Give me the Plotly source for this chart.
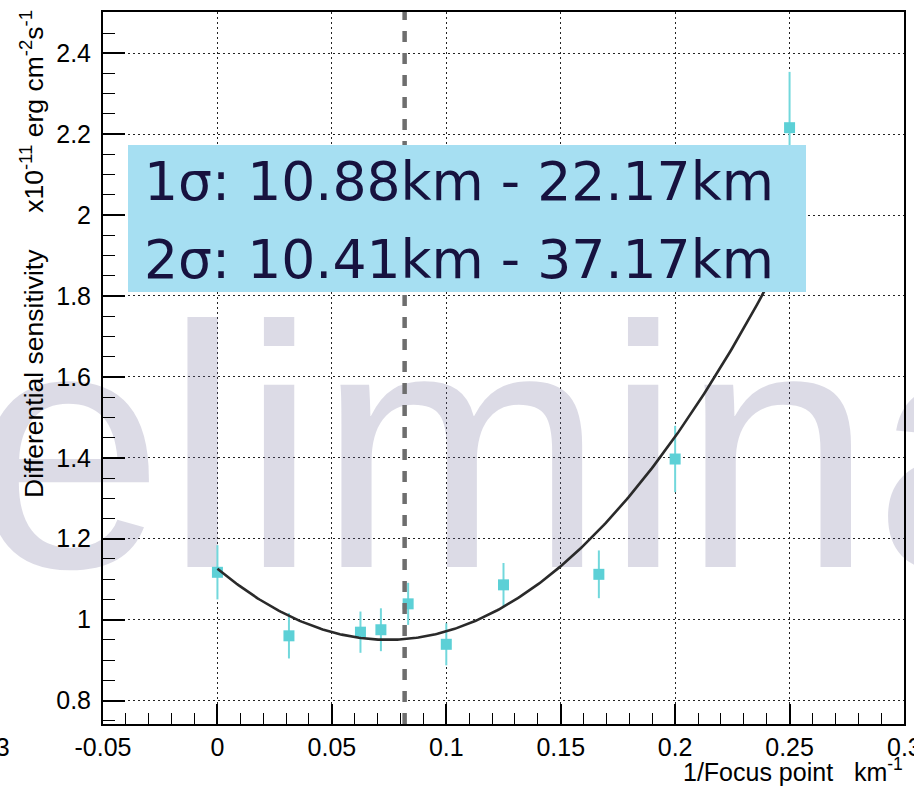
import numpy as np
import plotly.graph_objects as go

# Inverse focus point (1/km) and differential sensitivity (x1e-11 erg cm^-2 s^-1)
inv_focus = [0.0, 1 / 32, 1 / 16, 1 / 14, 1 / 12, 1 / 10, 1 / 8, 1 / 6, 1 / 5, 1 / 4]
sensitivity = [1.117, 0.960, 0.969, 0.975, 1.039, 0.939, 1.086, 1.112, 1.397, 2.216]
sens_err = [0.067, 0.056, 0.051, 0.053, 0.052, 0.052, 0.054, 0.059, 0.082, 0.138]

# Quadratic fit: p0 + p1*x + p2*x^2, evaluated over the fit interval
fit_coeffs = [1.126, -4.73, 31.8]
fit_range = [0.0, 0.25]

# Best focus point marker (1/km)
best_inv_focus = 0.0818

sigma_lines = ["1σ: 10.88km - 22.17km", "2σ: 10.41km - 37.17km"]

x_tick_vals = [-0.05, 0.0, 0.05, 0.1, 0.15, 0.2, 0.25, 0.3]
x_tick_text = ["-0.05", "0", "0.05", "0.1", "0.15", "0.2", "0.25", "0.3"]
y_tick_vals = [0.8, 1.0, 1.2, 1.4, 1.6, 1.8, 2.0, 2.2, 2.4]
y_tick_text = ["0.8", "1", "1.2", "1.4", "1.6", "1.8", "2", "2.2", "2.4"]

x_range = [-0.05, 0.3]
y_range = [0.742, 2.502]

W, H = 914, 788
M = dict(l=103, r=10, t=12, b=64)
PW, PH = W - M["l"] - M["r"], H - M["t"] - M["b"]


def px_to_paper_x(px):
    return (px - M["l"]) / PW


def px_to_paper_y(py):
    return (H - M["b"] - py) / PH


def px_to_data_x(px):
    return x_range[0] + (px - M["l"]) / PW * (x_range[1] - x_range[0])


def px_to_data_y(py):
    return y_range[0] + (H - M["b"] - py) / PH * (y_range[1] - y_range[0])


AXIS_FONT = "Liberation Sans, Arial, Helvetica, sans-serif"
POINT_COLOR = "#5cd0d6"
TICK_FONT = dict(family=AXIS_FONT, size=25, color="black")

fig = go.Figure()

# Large translucent "Preliminary" watermark behind the data
wm_size = 345
fig.add_trace(go.Scatter(
    x=[px_to_data_x(490)], y=[px_to_data_y(567 - 0.25 * wm_size)],
    mode="text", text=["Preliminary"], textposition="middle center",
    textfont=dict(family=AXIS_FONT, size=wm_size, color="rgba(115,111,155,0.25)"),
    cliponaxis=False, hoverinfo="skip",
))

# Measured points with vertical error bars
fig.add_trace(go.Scatter(
    x=inv_focus, y=sensitivity, mode="markers",
    marker=dict(symbol="square", size=11, color=POINT_COLOR, line=dict(width=0)),
    error_y=dict(type="data", array=sens_err, visible=True,
                 color="#72d8dc", thickness=2, width=0),
))

# Fitted parabola
xf = np.linspace(fit_range[0], fit_range[1], 300)
yf = fit_coeffs[0] + fit_coeffs[1] * xf + fit_coeffs[2] * xf ** 2
fig.add_trace(go.Scatter(x=xf, y=yf, mode="lines",
                         line=dict(color="#2a2a2a", width=2.6)))

# Best focus vertical dashed line
fig.add_shape(type="line", xref="x", yref="paper",
              x0=best_inv_focus, x1=best_inv_focus, y0=0, y1=1,
              line=dict(color="#6e6e6e", width=4.5, dash="11px,11px"),
              layer="above")

# Confidence interval text box
fig.add_shape(type="rect", xref="paper", yref="paper",
              x0=px_to_paper_x(128), x1=px_to_paper_x(806),
              y0=px_to_paper_y(292), y1=px_to_paper_y(145),
              fillcolor="#a6dff2", line=dict(width=0), layer="above")
for line, cy in zip(sigma_lines, [181, 259]):
    fig.add_annotation(
        text=line, xref="paper", yref="paper",
        x=px_to_paper_x(142), y=px_to_paper_y(cy),
        xanchor="left", yanchor="middle", showarrow=False,
        font=dict(family="DejaVu Sans", size=53.6, color="#17123f"),
    )

# Axis titles
fig.add_annotation(
    text="Differential sensitivity     x10<sup>-11</sup> erg cm<sup>-2</sup>s<sup>-1</sup>",
    xref="paper", yref="paper", x=px_to_paper_x(32), y=px_to_paper_y(8),
    xanchor="center", yanchor="top", textangle=-90, showarrow=False,
    font=dict(family=AXIS_FONT, size=26.5, color="black"),
)
fig.add_annotation(
    text="1/Focus point   km<sup>-1</sup>",
    xref="paper", yref="paper", x=px_to_paper_x(905), y=px_to_paper_y(788),
    xanchor="right", yanchor="bottom", showarrow=False,
    font=dict(family=AXIS_FONT, size=25, color="black"),
)
# Last x tick label, which runs past the right edge of the page
fig.add_annotation(
    text=x_tick_text[-1], xref="x", yref="paper", x=x_tick_vals[-1], y=px_to_paper_y(731),
    xanchor="center", yanchor="top", showarrow=False, font=TICK_FONT,
)
# Tick label of the neighbouring panel, cut at the left edge
fig.add_annotation(
    text="0.3", xref="paper", yref="paper", x=px_to_paper_x(12), y=px_to_paper_y(731),
    xanchor="right", yanchor="top", showarrow=False, font=TICK_FONT,
)

grid = dict(showgrid=True, gridcolor="#222222", gridwidth=1.3, griddash="2px,3px")
fig.update_xaxes(
    range=x_range, tickmode="array", tickvals=x_tick_vals, ticktext=x_tick_text,
    ticks="inside", ticklen=20, tickwidth=1.5, tickcolor="black",
    minor=dict(tickmode="linear", tick0=0, dtick=0.01, ticks="inside",
               ticklen=11, tickwidth=1.3, tickcolor="black", showgrid=False),
    showline=True, linecolor="black", linewidth=2, mirror=True, zeroline=False,
    automargin=False, tickfont=TICK_FONT, **grid,
)
fig.update_yaxes(
    range=y_range, tickmode="array", tickvals=y_tick_vals, ticktext=y_tick_text,
    ticks="inside", ticklen=22, tickwidth=1.5, tickcolor="black",
    ticklabelstandoff=5,
    minor=dict(tickmode="linear", tick0=0, dtick=0.05, ticks="inside",
               ticklen=12, tickwidth=1.3, tickcolor="black", showgrid=False),
    showline=True, linecolor="black", linewidth=2, mirror=True, zeroline=False,
    automargin=False, tickfont=TICK_FONT, **grid,
)
fig.update_layout(
    width=W, height=H, margin=M, autosize=False,
    paper_bgcolor="white", plot_bgcolor="white", showlegend=False,
    font=dict(family=AXIS_FONT, size=25, color="black"),
)

fig.write_html("out.html")
